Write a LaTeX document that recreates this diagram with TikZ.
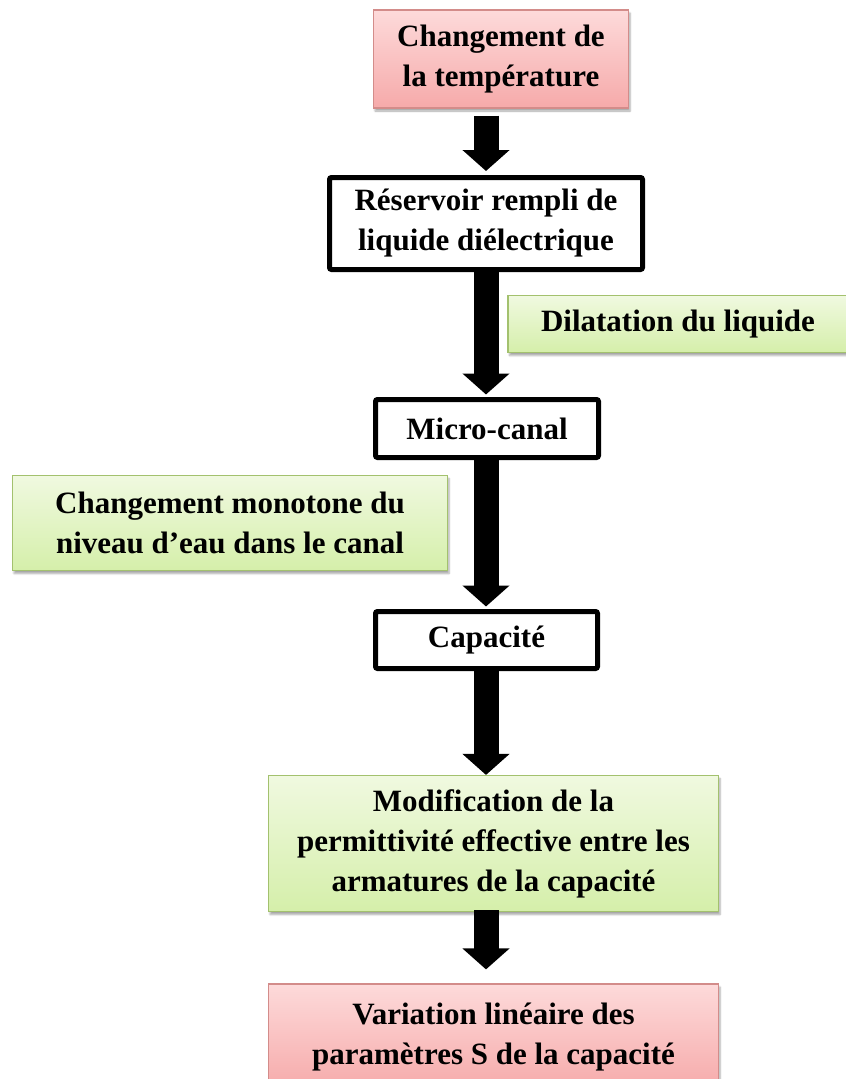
\documentclass[tikz,border=0pt]{standalone}
\usepackage{fontspec}
\setmainfont{Liberation Serif}
\usetikzlibrary{arrows.meta,shadows.blur}

\definecolor{pinktop}{HTML}{FDDADA}
\definecolor{pinkbot}{HTML}{F6AAAA}
\definecolor{pinkline}{HTML}{D38C8A}
\definecolor{greentop}{HTML}{F0F9E0}
\definecolor{greenbot}{HTML}{D5EFAA}
\definecolor{greenline}{HTML}{A3C16E}

\begin{document}
\begin{tikzpicture}[x=1pt,y=-1pt,
        every node/.style={font=\fontsize{31}{40}\selectfont\bfseries, align=center, inner sep=0pt},
        boxshadow/.style={blur shadow={shadow xshift=1.5pt, shadow yshift=-3pt, shadow blur steps=4, shadow opacity=35}},
        redbox/.style={draw=pinkline, line width=1.2pt, top color=pinktop, bottom color=pinkbot, boxshadow},
        greenbox/.style={draw=greenline, line width=1.2pt, top color=greentop, bottom color=greenbot, boxshadow},
        stepbox/.style={draw=black, line width=5pt, fill=white, rounded corners=2pt},
        bigarrow/.style={line width=25pt, -{Triangle[width=46pt,length=21pt]}}]
        \useasboundingbox (0,0) rectangle (846,1079);

        % Temperature change
        \node[redbox, minimum width=255pt, minimum height=98pt] (temp) at (501,59) {Changement de\\la température};

        % Reservoir
        \node[stepbox, minimum width=313pt, minimum height=92pt] (res) at (486,223.5) {Réservoir rempli de\\liquide diélectrique};

        % Dilatation
        \node[greenbox, minimum width=340pt, minimum height=57pt] (dil) at (678,324) {Dilatation du liquide};

        % Micro-canal
        \node[stepbox, minimum width=223pt, minimum height=58pt] (micro) at (487,428.5) {Micro-canal};

        % Water level
        \node[greenbox, minimum width=435pt, minimum height=95pt] (mono) at (230,523) {Changement monotone du\\niveau d’eau dans le canal};

        % Capacitor
        \node[stepbox, minimum width=222pt, minimum height=57pt] (cap) at (486.5,640) {Capacité};

        % Permittivity
        \node[greenbox, minimum width=450pt, minimum height=136pt] (modif) at (493.5,843.5) {Modification de la\\permittivité effective entre les\\armatures de la capacité};

        % S parameters
        \node[redbox, minimum width=450pt, minimum height=106pt] (var) at (493.5,1037) {Variation linéaire des\\paramètres S de la capacité};

        % Arrows down the chain
        \draw[bigarrow, shorten <=7pt, shorten >=4pt] (temp.south -| res.north) -- (res.north);
        \draw[bigarrow, shorten <=-5pt, shorten >=2.5pt] (res.south) -- (micro.north -| res.south);
        \draw[bigarrow, shorten >=2.5pt] (micro.south -| res.south) -- (cap.north -| res.south);
        \draw[bigarrow] (cap.south -| res.south) -- (modif.north -| res.south);
        \draw[bigarrow, shorten <=-2pt, shorten >=14pt] (modif.south -| res.south) -- (var.north -| res.south);
\end{tikzpicture}
\end{document}
